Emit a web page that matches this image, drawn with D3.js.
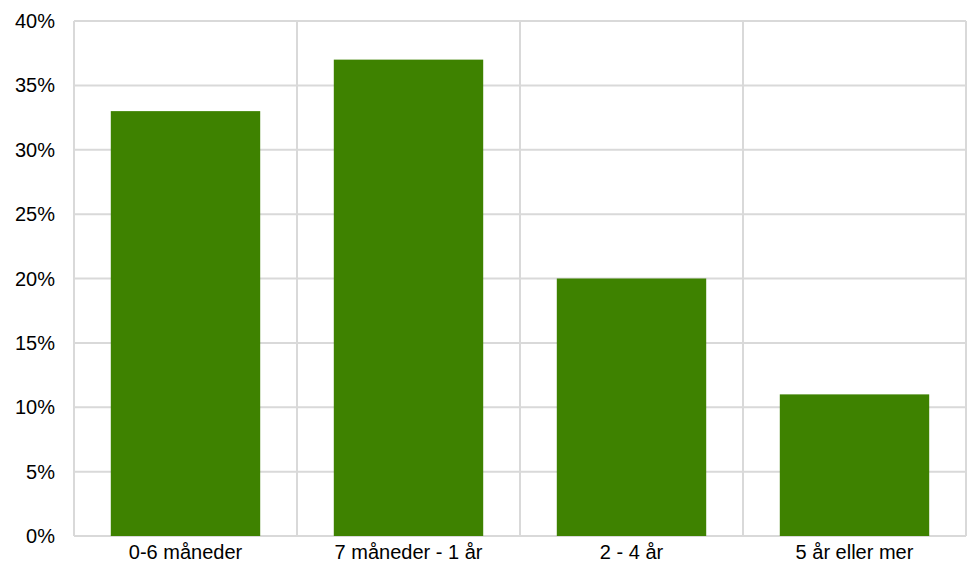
<!DOCTYPE html>
<html>
<head>
<meta charset="utf-8">
<script src="https://cdn.jsdelivr.net/npm/d3@7"></script>
<style>
  body { margin: 0; background: #fff; }
  svg { display: block; }
  text { font-family: "Liberation Sans", Arial, sans-serif; fill: #000; }
</style>
</head>
<body>
<svg width="968" height="563"></svg>
<script>
var categories = ["0-6 måneder", "7 måneder - 1 år", "2 - 4 år", "5 år eller mer"]
var values = [33, 37, 20, 11]
var yTicks = [0, 5, 10, 15, 20, 25, 30, 35, 40]

var svg = d3.select("svg")
var margin = {left: 74, right: 2, top: 21, bottom: 27}
var width = 968 - margin.left - margin.right
var height = 563 - margin.top - margin.bottom

var g = svg.append("g")
    .attr("transform", "translate(" + margin.left + "," + margin.top + ")")

var x = d3.scaleBand()
    .domain(categories)
    .range([0, width])
    .paddingInner(0.33)
    .paddingOuter(0.165)

var xCat = d3.scaleBand().domain(categories).range([0, width])

var y = d3.scaleLinear().domain([0, 40]).range([height, 0])

// horizontal gridlines
g.append("g").selectAll("line")
    .data(yTicks)
    .enter().append("line")
    .attr("x1", 0).attr("x2", width)
    .attr("y1", function (d) { return y(d) })
    .attr("y2", function (d) { return y(d) })
    .attr("stroke", "#d9d9d9")
    .attr("stroke-width", 2)

// vertical gridlines at category edges
var edges = categories.map(function (c) { return xCat(c) }).concat([width])
g.append("g").selectAll("line")
    .data(edges)
    .enter().append("line")
    .attr("x1", function (d) { return d }).attr("x2", function (d) { return d })
    .attr("y1", 0).attr("y2", height)
    .attr("stroke", "#d9d9d9")
    .attr("stroke-width", 2)

// bars
g.append("g").selectAll("rect")
    .data(values)
    .enter().append("rect")
    .attr("x", function (d, i) { return x(categories[i]) })
    .attr("width", x.bandwidth())
    .attr("y", function (d) { return y(d) })
    .attr("height", function (d) { return height - y(d) })
    .attr("fill", "#3e8200")

// y labels
g.append("g").selectAll("text")
    .data(yTicks)
    .enter().append("text")
    .attr("x", -19)
    .attr("y", function (d) { return y(d) })
    .attr("dy", "0.35em")
    .attr("text-anchor", "end")
    .style("font-size", "20px")
    .text(function (d) { return d + "%" })

// x labels
g.append("g").selectAll("text")
    .data(categories)
    .enter().append("text")
    .attr("x", function (d) { return xCat(d) + xCat.bandwidth() / 2 })
    .attr("y", height + 23)
    .attr("text-anchor", "middle")
    .style("font-size", "20px")
    .text(function (d) { return d })
</script>
</body>
</html>
